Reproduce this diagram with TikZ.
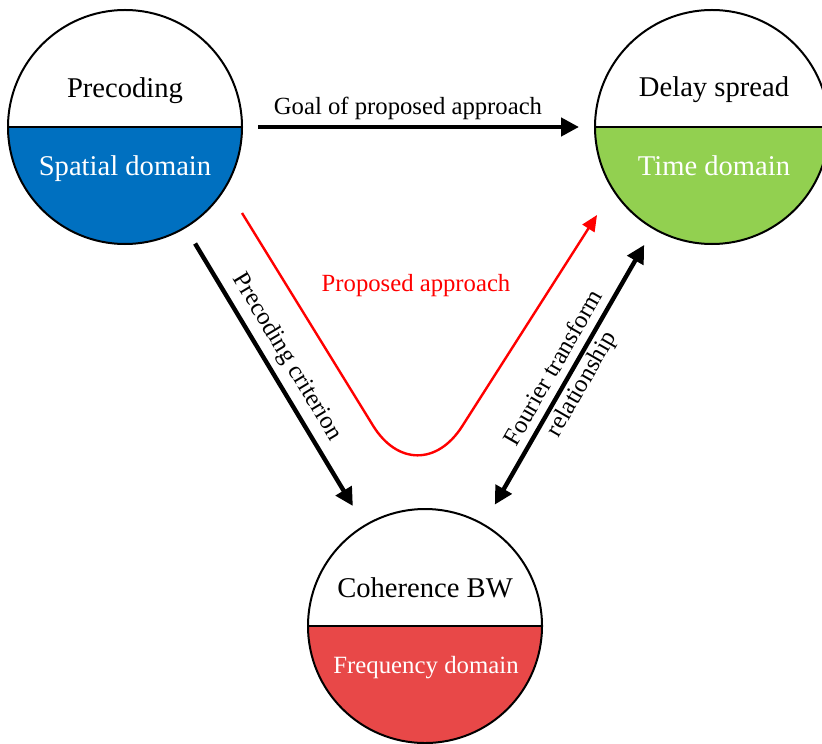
\documentclass[tikz,border=0pt]{standalone}
\usepackage{fontspec}
\setmainfont{Liberation Serif}
\usetikzlibrary{arrows.meta}
\definecolor{SpatialBlue}{HTML}{0070C0}
\definecolor{TimeGreen}{HTML}{92D050}
\definecolor{FreqRed}{HTML}{E84848}

\begin{document}
\begin{tikzpicture}[x=0.5pt, y=-0.5pt,
   half circle/.style={circle, draw, line width=1pt, minimum size=117pt, inner sep=0pt,
      path picture={
         \fill [#1] (path picture bounding box.west) rectangle (path picture bounding box.south east);
         \draw [line width=1pt] (path picture bounding box.west) -- (path picture bounding box.east);
      }},
   big text/.style={anchor=base, font=\fontsize{14.3}{17}\selectfont},
   small text/.style={font=\fontsize{12.35}{16}\selectfont},
   black arrow/.style={line width=2.2pt, -{Triangle[length=9pt, width=9pt]}},
   red arrow/.style={line width=1.2pt, red, -{Triangle[length=8pt, width=7pt]}}]
         \useasboundingbox (0,0) rectangle (822,743);

         \node (prec) at (125,127) [half circle=SpatialBlue] {};
         \node (delay) at (712,127) [half circle=TimeGreen] {};
         \node (coh) at (425,626) [half circle=FreqRed] {};

         \node (precT) at ([shift={(0,-29)}]prec.center) [big text] {Precoding};
         \node (precB) at ([shift={(0,49)}]prec.center) [big text, white] {Spatial domain};
         \node (delayT) at ([shift={(2,-30)}]delay.center) [big text] {Delay spread};
         \node (delayB) at ([shift={(2,49)}]delay.center) [big text, white] {Time domain};
         \node (cohT) at ([shift={(0,-29)}]coh.center) [big text] {Coherence BW};
         \node (cohB) at ([shift={(1,47)}]coh.center) [big text, white,
            font=\fontsize{12.4}{15}\selectfont] {Frequency domain};

         \draw [black arrow, shorten <=7.5pt, shorten >=7.5pt] (prec) -- (delay)
            node (goalT) [pos=0.47, above=-1pt, small text] {Goal of proposed approach};
         \draw [black arrow, shorten <=9pt, shorten >=11pt] (prec) -- (coh)
            node (critT) [pos=0.47, sloped, above, small text] {Precoding criterion};
         \draw [black arrow, {Triangle[length=9pt, width=9pt]}-{Triangle[length=9pt, width=9pt]},
            shorten <=11pt, shorten >=9pt] (coh) -- (delay)
            node (fourT) [midway, sloped, small text, align=center] {Fourier transform\\relationship};

         \coordinate (redS) at ([shift={(117,86)}]prec.center);
         \coordinate (redV) at (417,497);
         \coordinate (redE) at ([shift={(-115,88)}]delay.center);
         \draw [red arrow, rounded corners=42pt] (redS) -- (redV) -- (redE);
         \node (propT) at (416,291) [anchor=base, small text, red] {Proposed approach};
      \end{tikzpicture}
\end{document}
